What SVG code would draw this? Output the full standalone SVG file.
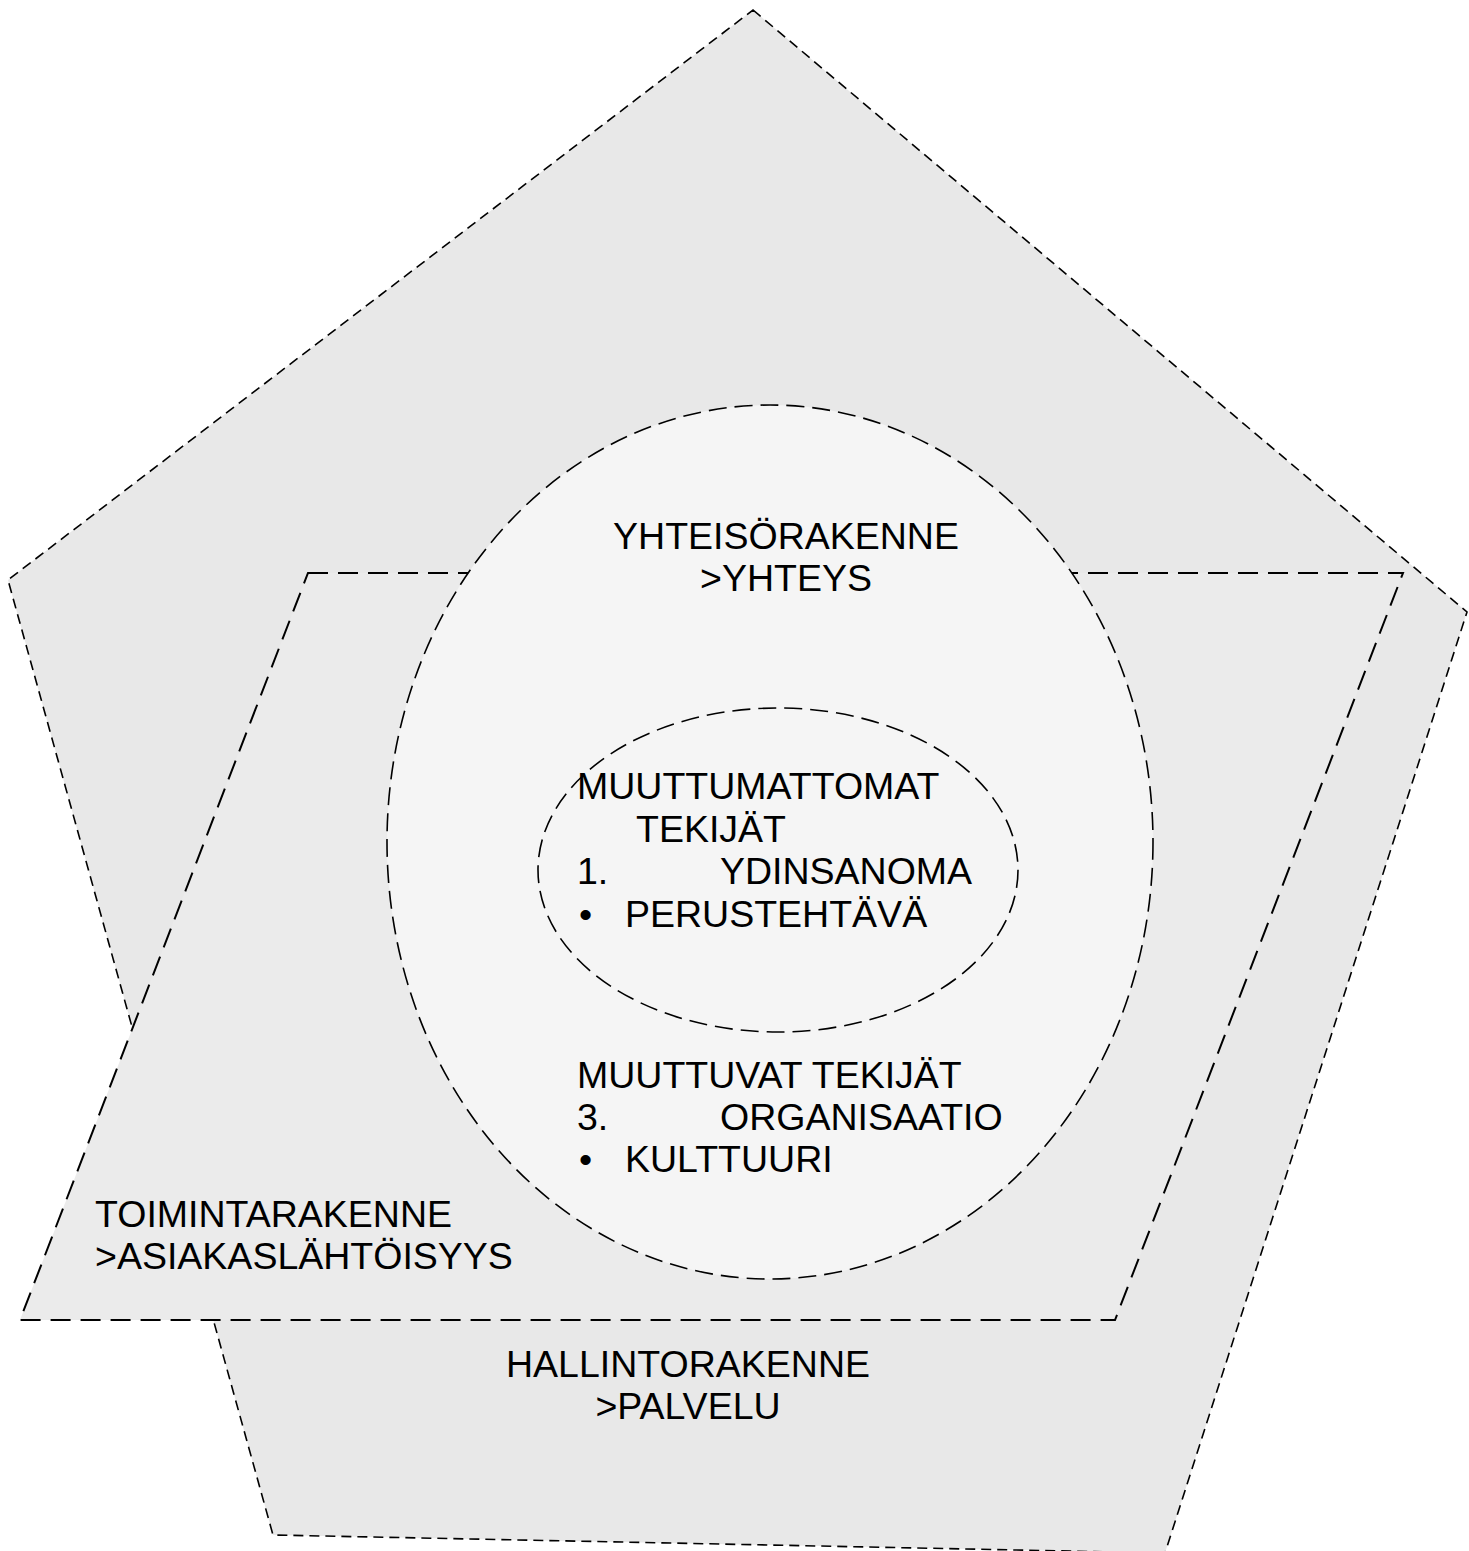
<svg xmlns="http://www.w3.org/2000/svg" width="1469" height="1551" viewBox="0 0 1469 1551">
<style>
.t{font-family:"Liberation Sans",Arial,sans-serif;font-size:37.5px;fill:#000}
.pent{fill:#e8e8e8;stroke:#000;stroke-width:1.6;stroke-dasharray:10 6}
.para{fill:#ebebeb;stroke:#000;stroke-width:2;stroke-dasharray:20 10}
.ell{fill:#f5f5f5;stroke:#000;stroke-width:1.6;stroke-dasharray:18 8}
</style>
<rect width="1469" height="1551" fill="#fff"/>
<g id="hallintorakenne">
<polygon class="pent" points="753,10 1467,612 1165,1553 273,1535 8,580"/>
<text class="t" x="688" y="1377" text-anchor="middle">HALLINTORAKENNE</text>
<text class="t" x="688" y="1419" text-anchor="middle">&gt;PALVELU</text>
</g>
<g id="toimintarakenne">
<polygon class="para" points="308,573 1403,573 1115,1320 20,1320"/>
<text class="t" x="95" y="1227">TOIMINTARAKENNE</text>
<text class="t" x="95" y="1269">&gt;ASIAKASLÄHTÖISYYS</text>
</g>
<g id="yhteisorakenne">
<ellipse class="ell" cx="770" cy="842" rx="383" ry="437"/>
<text class="t" x="786" y="549" text-anchor="middle">YHTEISÖRAKENNE</text>
<text class="t" x="786" y="591" text-anchor="middle">&gt;YHTEYS</text>
<text class="t" x="577" y="1088">MUUTTUVAT TEKIJÄT</text>
<text class="t" x="577" y="1130">3.</text>
<text class="t" x="720" y="1130">ORGANISAATIO</text>
<text class="t" x="579" y="1172">•</text>
<text class="t" x="625" y="1172">KULTTUURI</text>
</g>
<g id="muuttumattomat">
<ellipse class="ell" cx="778" cy="870" rx="240" ry="162"/>
<text class="t" x="577" y="799">MUUTTUMATTOMAT</text>
<text class="t" x="636" y="842">TEKIJÄT</text>
<text class="t" x="577" y="884">1.</text>
<text class="t" x="720" y="884">YDINSANOMA</text>
<text class="t" x="579" y="927">•</text>
<text class="t" x="625" y="927">PERUSTEHTÄVÄ</text>
</g>
<g id="connectors"/>
</svg>
